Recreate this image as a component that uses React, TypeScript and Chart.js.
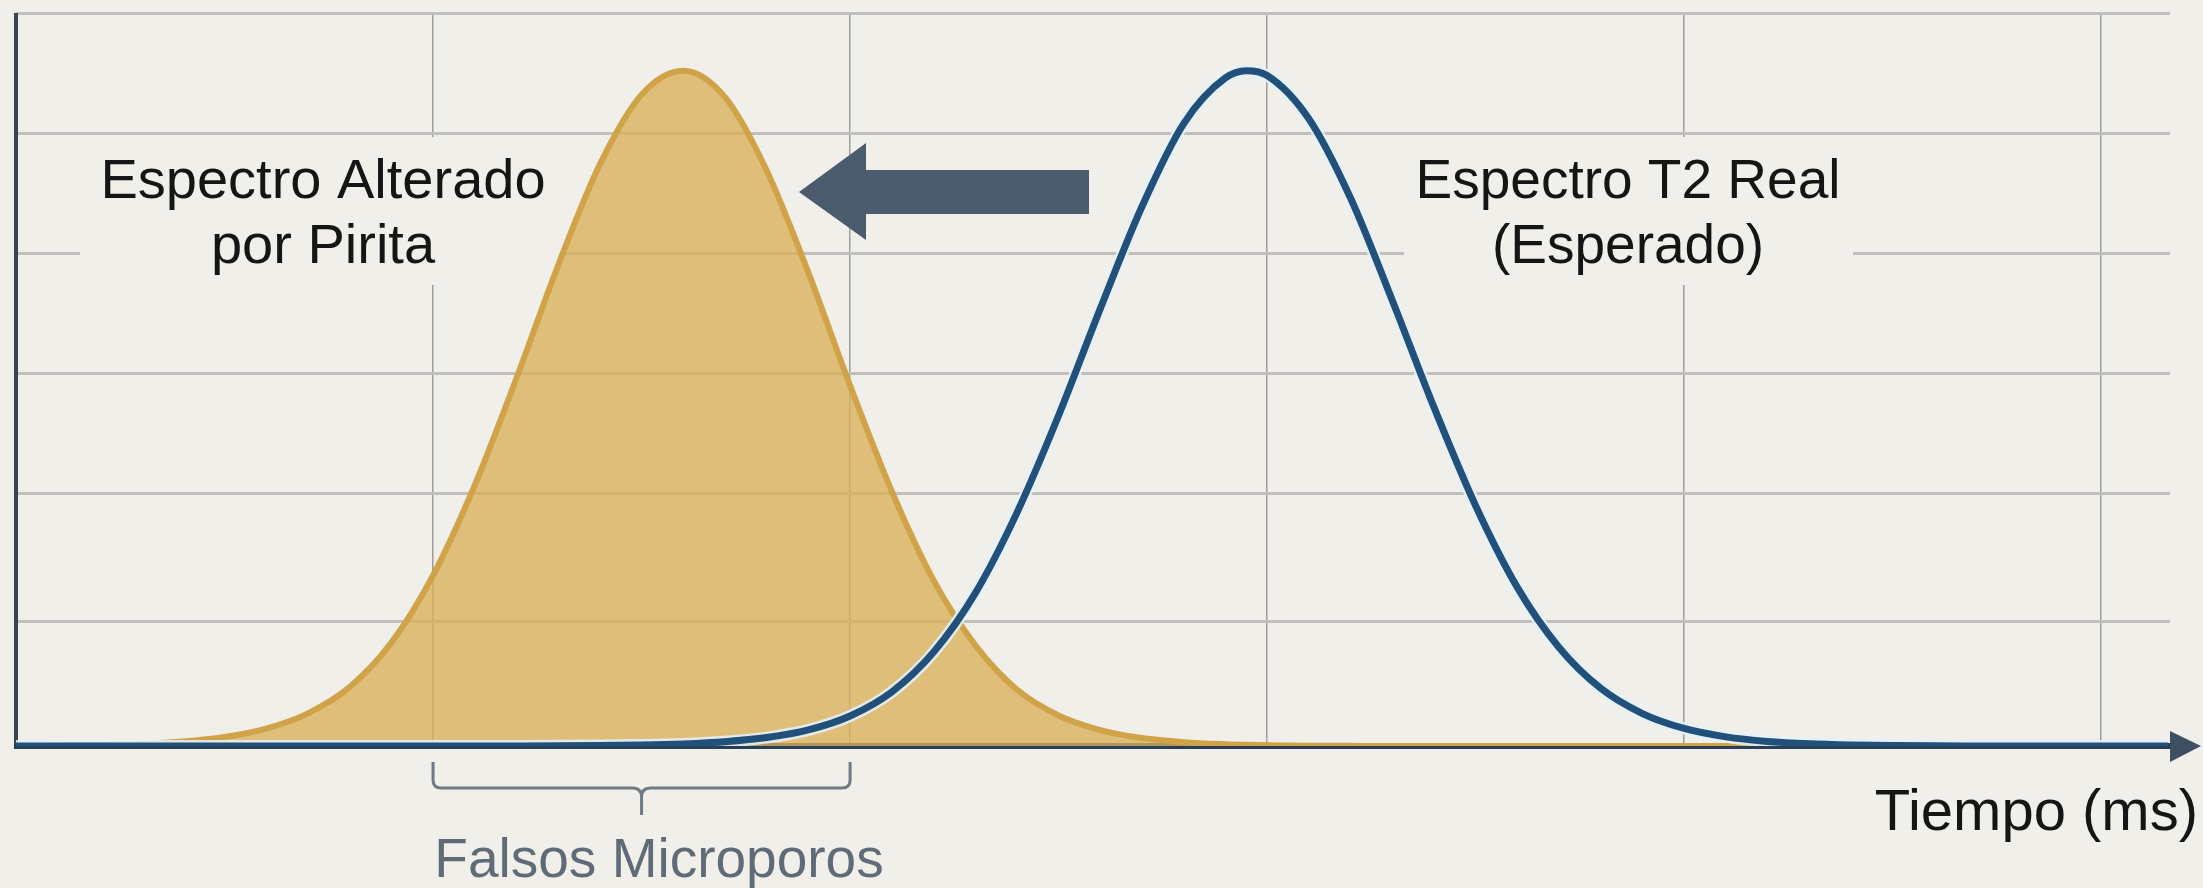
import React, { useEffect, useRef } from "react";
import { Chart, registerables } from "chart.js";

Chart.register(...registerables);

// ---- data ----
const tiempo = [
  0.0, 0.1, 0.2, 0.3, 0.4, 0.5, 0.6, 0.7, 0.8, 0.9,
  1.0, 1.1, 1.2, 1.3, 1.4, 1.5, 1.6, 1.7, 1.8, 1.9,
  2.0, 2.1, 2.2, 2.3, 2.4, 2.5, 2.6, 2.7, 2.8, 2.9,
  2.95,
  3.0, 3.1, 3.2, 3.3, 3.4, 3.5, 3.6, 3.7, 3.8, 3.9,
  4.0, 4.1, 4.2, 4.3, 4.4, 4.5, 4.6, 4.7, 4.8, 4.9,
  5.0, 5.1,
  5.16,
];

const espectroAlterado = [
  0.0016, 0.0036, 0.0081, 0.0175, 0.0367, 0.0745, 0.145, 0.272, 0.49, 0.86,
  1.42, 2.17, 3.06, 4.0, 4.84, 5.42, 5.62, 5.4, 4.79, 3.94,
  3.0, 2.12, 1.38, 0.84, 0.47, 0.254, 0.132, 0.066, 0.032, 0.015,
  0.01,
  0.0068, 0.003, 0.0013, 0, 0, 0, 0, 0, 0, 0,
  0, 0, 0, 0, 0, 0, 0, 0, 0, 0,
  0, 0,
  0,
];

const espectroReal = [
  0, 0, 0, 0, 0, 0, 0, 0, 0, 0,
  0, 0, 0.0007, 0.0017, 0.0038, 0.0082, 0.0173, 0.0354, 0.07, 0.134,
  0.25, 0.45, 0.78, 1.27, 1.94, 2.75, 3.64, 4.49, 5.18, 5.56,
  5.62,
  5.58, 5.22, 4.56, 3.71, 2.82, 2.0, 1.32, 0.82, 0.48, 0.27,
  0.146, 0.076, 0.038, 0.0185, 0.0087, 0.004, 0.0018, 0.0008, 0, 0,
  0, 0,
  0,
];

const xGridValues = [0, 1, 2, 3, 4, 5];
const yGridValues = [0, 1.04, 2.1, 3.1, 4.1, 5.1, 6.1];

const labelAlterado = ["Espectro Alterado", "por Pirita"];
const labelReal = ["Espectro T2 Real", "(Esperado)"];
const axisTitle = "Tiempo (ms)";
const bracketLabel = "Falsos Microporos";

// ---- styles ----
const BG = "#f0efea";
const FONT = '"Liberation Sans", Arial, Helvetica, sans-serif';

const overlay = {
  id: "overlay",
  beforeDatasetsDraw(chart: any) {
    const { ctx, chartArea: a } = chart;
    ctx.save();
    // label backgrounds (hide grid behind the texts)
    ctx.fillStyle = BG;
    ctx.fillRect(80, 137, 480, 148);
    ctx.fillRect(1404, 137, 449, 148);
    // left axis
    ctx.strokeStyle = "#38454f";
    ctx.lineWidth = 4;
    ctx.beginPath();
    ctx.moveTo(a.left, a.top);
    ctx.lineTo(a.left, a.bottom + 3);
    ctx.stroke();
    // bottom axis
    ctx.strokeStyle = "#283f55";
    ctx.lineWidth = 6;
    ctx.beginPath();
    ctx.moveTo(a.left - 2, a.bottom);
    ctx.lineTo(a.right + 4, a.bottom);
    ctx.stroke();
    ctx.fillStyle = "#3e4f61";
    ctx.beginPath();
    ctx.moveTo(a.right, a.bottom - 15);
    ctx.lineTo(a.right + 31, a.bottom);
    ctx.lineTo(a.right, a.bottom + 16);
    ctx.closePath();
    ctx.fill();
    ctx.restore();
  },
  afterDatasetsDraw(chart: any) {
    const { ctx, chartArea: a, scales } = chart;
    const xs = scales.x;
    ctx.save();
    // labels
    ctx.fillStyle = "#151515";
    ctx.textAlign = "center";
    ctx.textBaseline = "alphabetic";
    ctx.font = `56px ${FONT}`;
    ctx.fillText(labelAlterado[0], 323, 198);
    ctx.fillText(labelAlterado[1], 323, 263);
    ctx.font = `55px ${FONT}`;
    ctx.fillText(labelReal[0], 1628, 198);
    ctx.fillText(labelReal[1], 1628, 263);
    // axis title
    ctx.textAlign = "right";
    ctx.font = `58px ${FONT}`;
    ctx.fillText(axisTitle, 2198, 830);

    // shift arrow
    ctx.fillStyle = "#495b6c";
    ctx.beginPath();
    ctx.moveTo(799, 192);
    ctx.lineTo(866, 143);
    ctx.lineTo(866, 170);
    ctx.lineTo(1089, 170);
    ctx.lineTo(1089, 214);
    ctx.lineTo(866, 214);
    ctx.lineTo(866, 240);
    ctx.closePath();
    ctx.fill();

    // bracket under microporos region
    const x1 = xs.getPixelForValue(1);
    const x2 = xs.getPixelForValue(2);
    const xm = (x1 + x2) / 2;
    const yb = a.bottom + 42;
    ctx.strokeStyle = "#6f7a84";
    ctx.lineWidth = 3;
    ctx.beginPath();
    ctx.moveTo(x1, a.bottom + 16);
    ctx.lineTo(x1, yb - 8);
    ctx.quadraticCurveTo(x1, yb, x1 + 8, yb);
    ctx.lineTo(xm - 9, yb);
    ctx.quadraticCurveTo(xm, yb, xm, yb + 9);
    ctx.lineTo(xm, yb + 27);
    ctx.moveTo(x2, a.bottom + 16);
    ctx.lineTo(x2, yb - 8);
    ctx.quadraticCurveTo(x2, yb, x2 - 8, yb);
    ctx.lineTo(xm + 9, yb);
    ctx.quadraticCurveTo(xm, yb, xm, yb + 9);
    ctx.stroke();

    ctx.fillStyle = "#5f6b77";
    ctx.textAlign = "center";
    ctx.font = `55px ${FONT}`;
    ctx.fillText(bracketLabel, 659, 877);
    ctx.restore();
  },
};

export default function App() {
  const ref = useRef<HTMLCanvasElement>(null);

  useEffect(() => {
    document.body.style.margin = "0";
    document.body.style.background = BG;
    const toPoints = (vals: number[]) => tiempo.map((t, i) => ({ x: t, y: vals[i] }));
    const chart = new Chart(ref.current as HTMLCanvasElement, {
      type: "line",
      data: {
        datasets: [
          {
            label: "Espectro T2 Real",
            data: toPoints(espectroReal),
            borderColor: "#21507a",
            borderWidth: 7,
            fill: false,
            cubicInterpolationMode: "monotone",
            pointRadius: 0,
          },
          {
            label: "halo",
            data: toPoints(espectroReal),
            borderColor: "rgba(228,242,251,0.85)",
            borderWidth: 12,
            fill: false,
            cubicInterpolationMode: "monotone",
            pointRadius: 0,
          },
          {
            label: "Espectro Alterado",
            data: toPoints(espectroAlterado),
            borderColor: "#d1a348",
            borderWidth: 6,
            backgroundColor: "rgba(218,176,90,0.78)",
            fill: "origin",
            cubicInterpolationMode: "monotone",
            pointRadius: 0,
          },
        ],
      },
      options: {
        responsive: false,
        maintainAspectRatio: false,
        animation: false,
        layout: { padding: { left: 16, top: 13, right: 33, bottom: 142 } },
        plugins: { legend: { display: false }, tooltip: { enabled: false } },
        scales: {
          x: {
            type: "linear",
            min: 0,
            max: 5.165,
            afterBuildTicks: (s: any) => {
              s.ticks = xGridValues.map((v) => ({ value: v }));
            },
            ticks: { display: false },
            grid: { color: "#9e9e9b", lineWidth: 1.5, drawTicks: false },
            border: { display: false },
          },
          y: {
            type: "linear",
            min: 0,
            max: 6.1,
            afterBuildTicks: (s: any) => {
              s.ticks = yGridValues.map((v) => ({ value: v }));
            },
            ticks: { display: false },
            grid: { color: "#c0bfbb", lineWidth: 3, drawTicks: false },
            border: { display: false },
          },
        },
      } as any,
      plugins: [overlay],
    });
    return () => chart.destroy();
  }, []);

  return (
    <div style={{ position: "fixed", left: 0, top: 0, width: 2203, height: 888, background: BG }}>
      <canvas ref={ref} width={2203} height={888} style={{ display: "block" }} />
    </div>
  );
}
